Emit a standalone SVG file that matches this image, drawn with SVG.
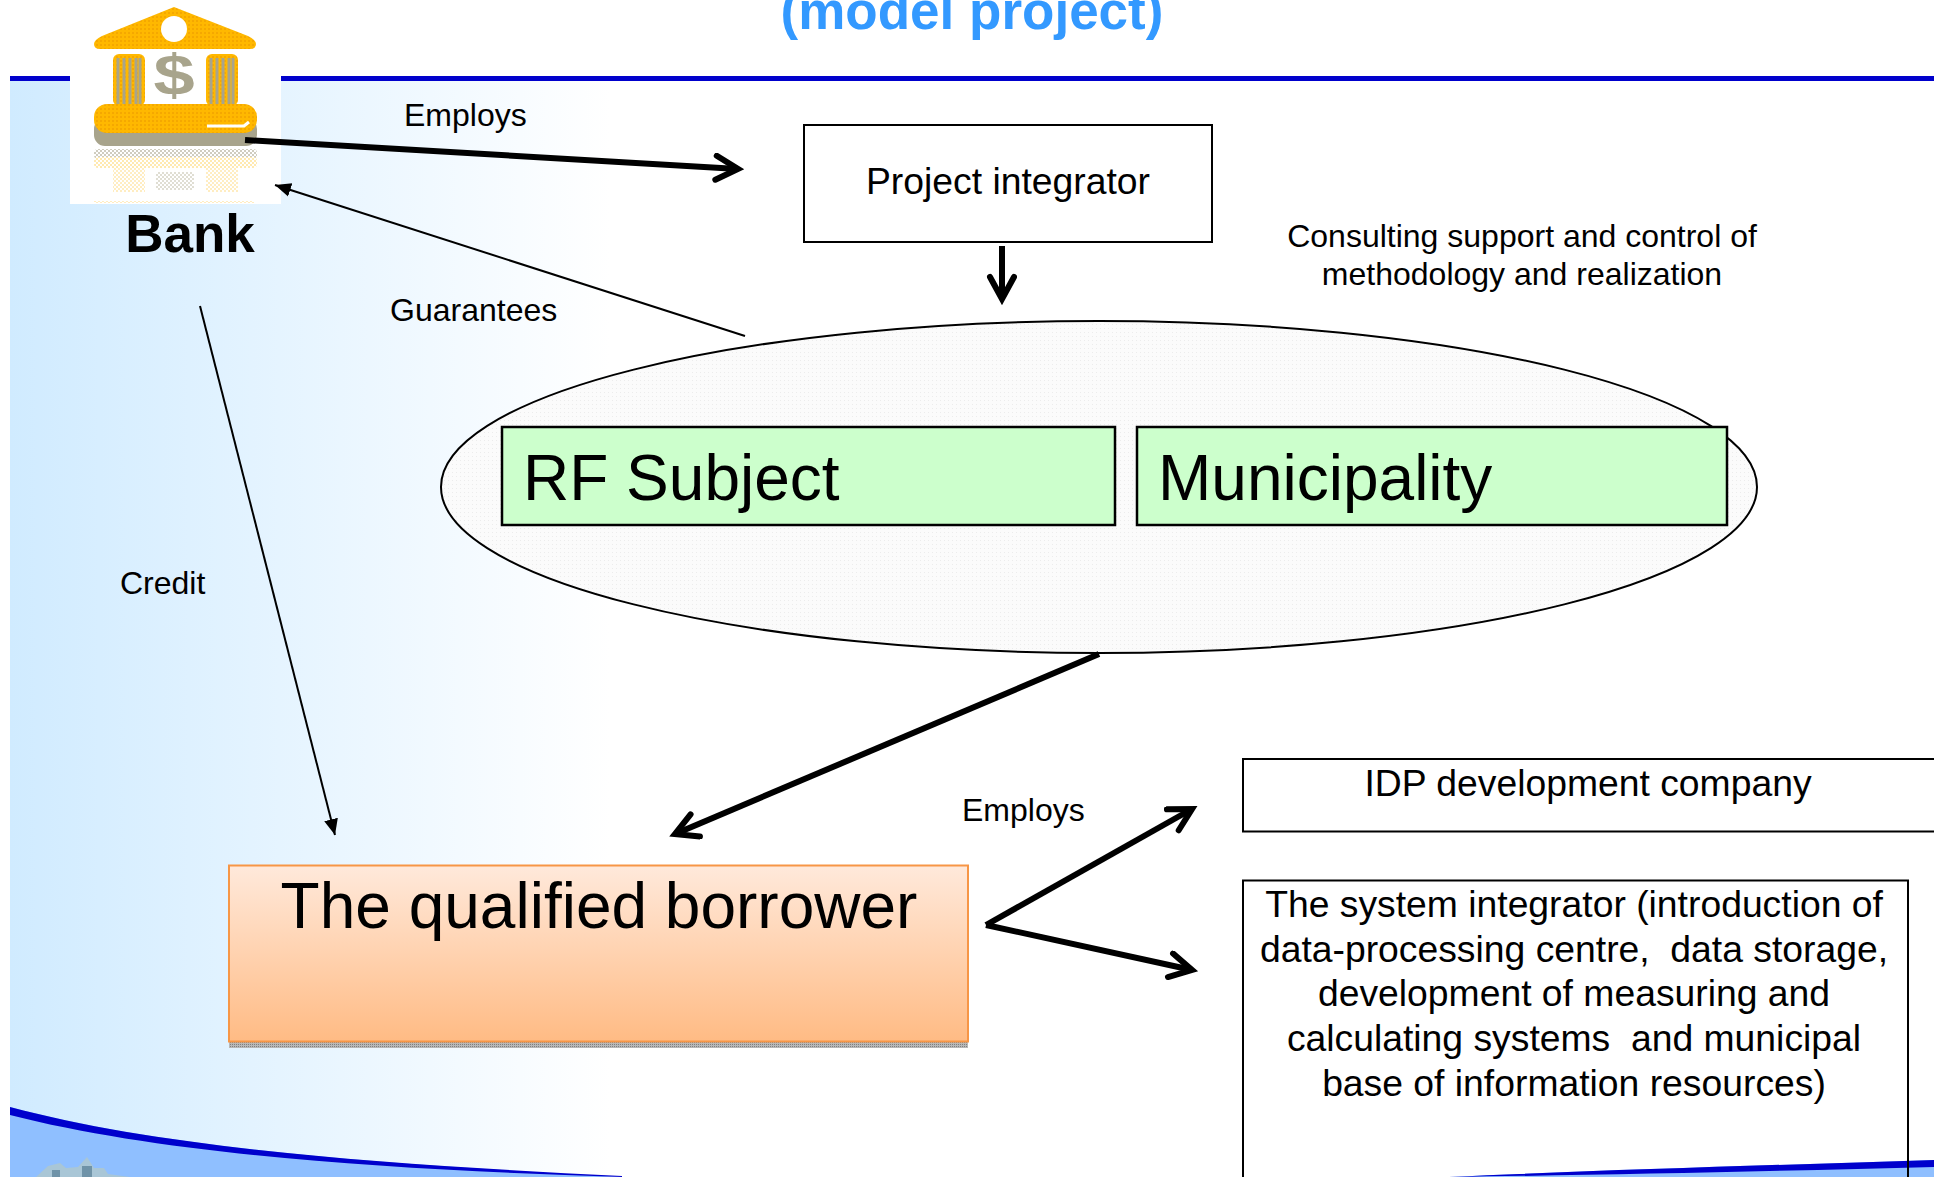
<svg xmlns="http://www.w3.org/2000/svg" width="1934" height="1177" viewBox="0 0 1934 1177">
<style>
text{font-family:"Liberation Sans",Arial,sans-serif;fill:#000;white-space:pre}
.lbl{font-size:32px}
.mid{font-size:37.3px;text-anchor:middle}
.big{font-size:64px}
.box{fill:#fff;stroke:#000;stroke-width:2}
.green{fill:#ccffcc;stroke:#000;stroke-width:2.5}
.thick{fill:none;stroke:#000;stroke-width:6;marker-end:url(#open)}
.thin{fill:none;stroke:#000;stroke-width:2;marker-end:url(#solid)}
.org{fill:url(#orgp)}
.gry{fill:#a8a48c}
</style>
<defs>
<linearGradient id="bg" x1="0" x2="1" y1="0" y2="0"><stop offset="0" stop-color="#d0ebff"/><stop offset="1" stop-color="#fff"/></linearGradient>
<linearGradient id="peach" x1="0" x2="0" y1="0" y2="1"><stop offset="0" stop-color="#ffe9db"/><stop offset="1" stop-color="#ffbb84"/></linearGradient>
<pattern id="dots" width="4" height="4" patternUnits="userSpaceOnUse"><rect width="4" height="4" fill="#fbfbfb"/><rect width="1" height="1" fill="#ececec"/></pattern>
<pattern id="shade" width="2" height="2" patternUnits="userSpaceOnUse"><rect width="2" height="2" fill="#b8b8b8"/><rect width="1" height="1" fill="#808080"/></pattern>
<pattern id="orgp" width="4" height="4" patternUnits="userSpaceOnUse"><rect width="4" height="4" fill="#ffb800"/><rect width="2" height="2" fill="#f5a800"/></pattern>
<pattern id="mask" width="4" height="4" patternUnits="userSpaceOnUse"><rect width="2" height="2" fill="#fff"/><rect x="2" y="2" width="2" height="2" fill="#fff"/></pattern>
<marker id="open" markerUnits="userSpaceOnUse" markerWidth="38" markerHeight="36" refX="28" refY="15" orient="auto"><path d="M6 3L28 15L6 27" fill="none" stroke="#000" stroke-width="6" stroke-linecap="round"/></marker>
<marker id="solid" markerUnits="userSpaceOnUse" markerWidth="20" markerHeight="20" refX="16" refY="8" orient="auto"><path d="M0 1L16 8L0 15Z" fill="#000"/></marker>
</defs>

<g id="background">
<rect x="10" y="78" width="600" height="1099" fill="url(#bg)"/>
<path d="M10 1107C170 1150 400 1165 622 1177L10 1177Z" fill="#8fbfff"/>
<path d="M1449 1177C1600 1170 1780 1165 1934 1160V1177Z" fill="#8fbfff"/>
<path d="M10 1107C170 1150 400 1165 622 1176V1177C400 1170 170 1156 10 1115Z" fill="#0000cc"/>
<path d="M1449 1177C1600 1170 1780 1165 1934 1160V1167C1780 1171 1600 1175 1449 1177Z" fill="#0000cc"/>
<rect x="10" y="76" width="1924" height="5" fill="#0000cc"/>
<path d="M36 1177L48 1166L60 1163L66 1168L78 1167L87 1157L94 1168L104 1168L108 1174L130 1177Z" fill="#a9c6d6"/>
<path d="M82 1177V1166H92V1177ZM52 1177V1170H60V1177Z" fill="#6f93a8"/>
</g>

<text id="title" x="972" y="29" font-size="53" font-weight="700" text-anchor="middle" style="fill:#3399ff">(model project)</text>

<g id="bank">
<rect x="70" y="0" width="211" height="204" fill="#fff"/>
<path d="M174 7L248 36Q256 40 256 44Q256 49 250 49H100Q94 49 94 44Q94 40 102 36Z" class="org"/>
<circle cx="174" cy="29" r="13" fill="#fff"/>
<rect x="113" y="54" width="32" height="52" rx="6" class="org"/>
<rect x="206" y="54" width="32" height="52" rx="6" class="org"/>
<path d="M118 58V104M124 58V104M130 58V104M136 58V104M140 58V104M211 58V104M217 58V104M223 58V104M229 58V104M233 58V104" stroke="#a8a48c" stroke-width="3"/>
<text transform="translate(174 95) scale(1.3 1)" x="0" y="0" font-size="57" font-weight="700" text-anchor="middle" style="fill:#a8a48c">$</text>
<rect x="94" y="118" width="163" height="28" rx="11" class="gry"/>
<rect x="94" y="104" width="163" height="29" rx="13" class="org"/>
<path d="M207 126H244L249 122" fill="none" stroke="#fff" stroke-width="3"/>
<g opacity=".55">
<rect x="94" y="149" width="163" height="10" rx="4" class="gry"/>
<rect x="94" y="157" width="163" height="11" rx="4" fill="#ffd870"/>
<rect x="113" y="168" width="32" height="24" fill="#ffdf90"/>
<rect x="206" y="168" width="32" height="24" fill="#ffdf90"/>
<rect x="156" y="172" width="38" height="18" fill="#c8c4b0"/>
<rect x="94" y="201" width="160" height="2" fill="#ffdf90"/>
<rect x="94" y="149" width="163" height="55" fill="url(#mask)"/>
</g>
<text x="190" y="252" font-size="53" font-weight="700" text-anchor="middle">Bank</text>
</g>

<g id="project-integrator">
<rect class="box" x="804" y="125" width="408" height="117"/>
<text class="mid" x="1008" y="194">Project integrator</text>
</g>

<text id="consulting" class="lbl" text-anchor="middle"><tspan x="1522" y="247">Consulting support and control of</tspan><tspan x="1522" y="285">methodology and realization</tspan></text>

<g id="authorities">
<ellipse cx="1099" cy="487" rx="658" ry="166" fill="url(#dots)" stroke="#000" stroke-width="2"/>
</g>
<g id="rf-subject">
<rect class="green" x="502" y="427" width="613" height="98"/>
<text class="big" x="523" y="500">RF Subject</text>
</g>
<g id="municipality">
<rect class="green" x="1137" y="427" width="590" height="98"/>
<text class="big" x="1158" y="500">Municipality</text>
</g>

<g id="borrower">
<rect x="229" y="1042" width="739" height="6" fill="url(#shade)"/>
<rect x="229" y="865.500" width="739" height="176" fill="url(#peach)" stroke="#f79646" stroke-width="2"/>
<text class="big" x="599" y="928" text-anchor="middle">The qualified borrower</text>
</g>

<g id="idp-company">
<path class="box" d="M1934 759H1243V831.500H1934"/>
<text class="mid" x="1588" y="796">IDP development company</text>
</g>

<g id="system-integrator">
<path class="box" d="M1243 1177V880.500H1908V1177" style="fill:none"/>
<text class="mid"><tspan x="1574" y="917">The system integrator (introduction of</tspan><tspan x="1574" y="962">data-processing centre,  data storage,</tspan><tspan x="1574" y="1006">development of measuring and</tspan><tspan x="1574" y="1051">calculating systems  and municipal</tspan><tspan x="1574" y="1096">base of information resources)</tspan></text>
</g>

<g id="connectors">
<path class="thick" d="M245 140L738 169"/>
<path class="thin" d="M745 336L275 185"/>
<path class="thick" d="M1002 246V299"/>
<path class="thin" d="M200 306L335 835"/>
<path class="thick" d="M1099 654L675 834"/>
<path class="thick" d="M986 925L1192 809"/>
<path class="thick" d="M986 925L1192 970"/>
</g>

<g id="labels">
<text class="lbl" x="404" y="126">Employs</text>
<text class="lbl" x="390" y="321">Guarantees</text>
<text class="lbl" x="120" y="594">Credit</text>
<text class="lbl" x="962" y="821">Employs</text>
</g>
</svg>
